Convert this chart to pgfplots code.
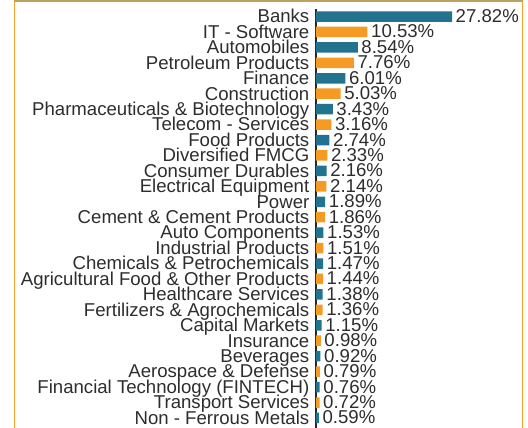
\documentclass[border=0pt]{standalone}
\usepackage{fontspec}
\setmainfont{Liberation Sans}
\usepackage{pgfplots}
\pgfplotsset{compat=1.18}
\usepackage{pgfplotstable}

\definecolor{barteal}{RGB}{33,115,143}
\definecolor{barorange}{RGB}{245,154,35}
\definecolor{txt}{RGB}{45,45,45}
\definecolor{frameor}{RGB}{245,160,40}
\definecolor{frametop}{RGB}{190,160,95}

% even rows teal, odd rows orange
\pgfplotstableread{
idx val
0 27.82
2 8.54
4 6.01
6 3.43
8 2.74
10 2.16
12 1.89
14 1.53
16 1.47
18 1.38
20 1.15
22 0.92
24 0.76
26 0.59
}\tealdata
\pgfplotstableread{
idx val
1 10.53
3 7.76
5 5.03
7 3.16
9 2.33
11 2.14
13 1.86
15 1.51
17 1.44
19 1.36
21 0.98
23 0.79
25 0.72
}\orangedata

\newcommand{\lblfont}{\fontsize{18.6}{20}\selectfont}

\begin{document}
\begin{tikzpicture}[x=1pt,y=1pt]
  \begin{axis}[
    at={(316pt,419.2pt)}, anchor=north west,
    scale only axis, width=195.6pt, height=432.3pt,
    xbar, bar width=10.5pt, bar shift=0pt,
    xmin=0, xmax=40, ymin=-0.5, ymax=27.5, y dir=reverse,
    hide x axis, axis y line*=left,
    y axis line style={color=black!85, line width=1.1pt},
    ytick={0,...,26}, major tick length=0pt,
    yticklabels={Banks, IT - Software, Automobiles, Petroleum Products, Finance,
      Construction, Pharmaceuticals \& Biotechnology, Telecom - Services,
      Food Products, Diversified FMCG, Consumer Durables, Electrical Equipment,
      Power, Cement \& Cement Products, Auto Components, Industrial Products,
      Chemicals \& Petrochemicals, Agricultural Food \& Other Products,
      Healthcare Services, Fertilizers \& Agrochemicals, Capital Markets,
      Insurance, Beverages, Aerospace \& Defense, Financial Technology (FINTECH),
      Transport Services, Non - Ferrous Metals},
    yticklabel style={font=\lblfont, text=txt, anchor=base east, inner xsep=0pt,
      xshift=-6.5pt, yshift=-6.3pt},
    point meta=x,
    nodes near coords={\pgfmathprintnumber[fixed,fixed zerofill,precision=2,assume math mode=true]{\pgfplotspointmeta}\%},
    nodes near coords style={font=\lblfont, text=txt, anchor=base west,
      inner xsep=3.5pt, yshift=-6pt},
    clip=false,
  ]
    \addplot[fill=barteal, draw=none, bar shift=0pt] table[x=val, y=idx] {\tealdata};
    \addplot[fill=barorange, draw=none, bar shift=0pt] table[x=val, y=idx] {\orangedata};
  \end{axis}
  \draw[frameor, line width=1.6pt] (14.6,-5) -- (14.6,427.2);
  \draw[frameor, line width=1.6pt] (522.6,-5) -- (522.6,427.2);
  \draw[frametop, line width=1.6pt] (13.8,427.2) -- (523.4,427.2);
  \pgfresetboundingbox
  \path[use as bounding box] (0,0) rectangle (528,428);
\end{tikzpicture}
\end{document}
